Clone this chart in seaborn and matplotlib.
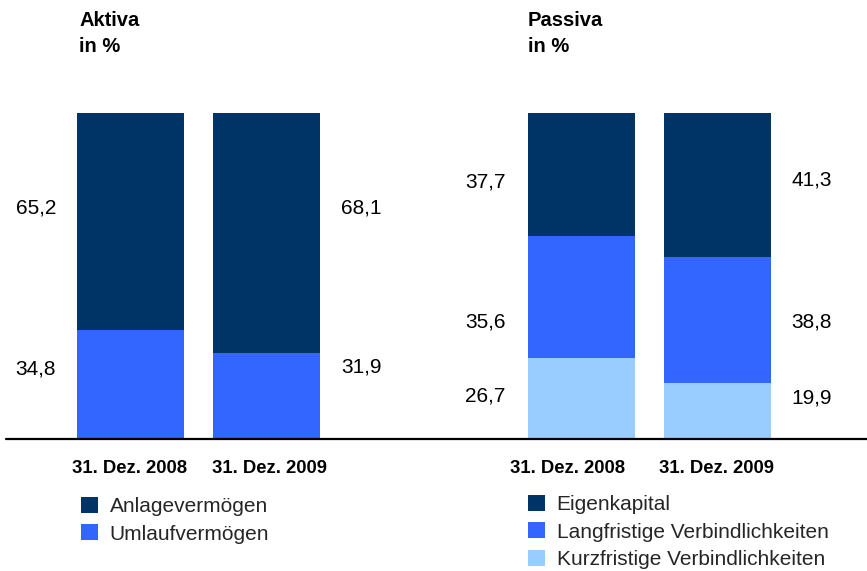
import matplotlib
matplotlib.use("Agg")
import matplotlib.pyplot as plt
from matplotlib.patches import Patch
from matplotlib.lines import Line2D
import seaborn as sns
import pandas as pd

# ---------------- data ----------------
dates = ["31. Dez. 2008", "31. Dez. 2009"]

# Aktiva (bar segment heights as drawn, in %)
aktiva_anlage = [66.6, 73.6]
aktiva_umlauf = [33.4, 26.4]
aktiva_labels_anlage = ["65,2", "68,1"]
aktiva_labels_umlauf = ["34,8", "31,9"]

# Passiva (bar segment heights as drawn, in %)
passiva_eigen = [37.8, 44.1]
passiva_lang = [37.4, 38.7]
passiva_kurz = [24.8, 17.2]
passiva_labels_eigen = ["37,7", "41,3"]
passiva_labels_lang = ["35,6", "38,8"]
passiva_labels_kurz = ["26,7", "19,9"]

aktiva_legend = ["Anlagevermögen", "Umlaufvermögen"]
passiva_legend = ["Eigenkapital", "Langfristige Verbindlichkeiten", "Kurzfristige Verbindlichkeiten"]

DARK = "#003366"
MID = "#3366FF"
LIGHT = "#99CCFF"

# ---------------- figure ----------------
sns.set_theme(style="white")
plt.rcParams["font.family"] = ["Liberation Sans", "DejaVu Sans"]

W, H = 867, 571
fig = plt.figure(figsize=(W / 100, H / 100), dpi=100)

base_px = 438.5
top_px = 113.0
unit = 136.0  # px per category step
bw = 107.0 / unit


def axes_at(x0, x1, center0):
    ax = fig.add_axes([x0 / W, (H - base_px) / H, (x1 - x0) / W, (base_px - top_px) / H])
    ax.set_xlim((x0 - center0) / unit, (x1 - center0) / unit)
    ax.set_ylim(0, 100)
    for s in ax.spines.values():
        s.set_visible(False)
    ax.set_yticks([])
    return ax


def stacked(ax, layers, colors):
    # layers from bottom to top; draw cumulative totals top-down
    cum = []
    running = [0.0] * len(dates)
    for layer in layers:
        running = [r + v for r, v in zip(running, layer)]
        cum.append(list(running))
    for tot, col in reversed(list(zip(cum, colors))):
        df = pd.DataFrame({"date": dates, "v": tot})
        sns.barplot(data=df, x="date", y="v", color=col, saturation=1,
                    width=bw, errorbar=None, ax=ax, linewidth=0)
    ax.set_xlabel("")
    ax.set_ylabel("")


def ytop(px):
    return (base_px - px) / (base_px - top_px) * 100


# Aktiva
ax1 = axes_at(0, 433, 130.5)
stacked(ax1, [aktiva_umlauf, aktiva_anlage], [MID, DARK])
ax1.set_xlim((0 - 130.5) / unit, (433 - 130.5) / unit)
ax1.set_ylim(0, 100)

# Passiva
ax2 = axes_at(433, 867, 581.5)
stacked(ax2, [passiva_kurz, passiva_lang, passiva_eigen], [LIGHT, MID, DARK])
ax2.set_xlim((433 - 581.5) / unit, (867 - 581.5) / unit)
ax2.set_ylim(0, 100)

for ax, offs in ((ax1, [-1.0, 3.5]), (ax2, [-13.5, -1.0])):
    ax.set_xticks([0 + offs[0] / unit, 1 + offs[1] / unit])
    ax.set_xticklabels(dates, fontsize=13.3, fontweight="bold", color="black")
    ax.tick_params(axis="x", length=0, pad=15.5)
    ax.set_yticks([])

# value labels
lbl_kw = dict(fontsize=15, color="black", ha="center", va="center", clip_on=False)
lx_left1 = (36 - 130.5) / unit
lx_right1 = (361 - 130.5) / unit
ax1.text(lx_left1, ytop(208), aktiva_labels_anlage[0], **lbl_kw)
ax1.text(lx_left1, ytop(369), aktiva_labels_umlauf[0], **lbl_kw)
ax1.text(lx_right1, ytop(208), aktiva_labels_anlage[1], **lbl_kw)
ax1.text(lx_right1, ytop(367), aktiva_labels_umlauf[1], **lbl_kw)

lx_left2 = (485 - 581.5) / unit
lx_right2 = (812 - 581.5) / unit
ax2.text(lx_left2, ytop(182), passiva_labels_eigen[0], **lbl_kw)
ax2.text(lx_left2, ytop(322), passiva_labels_lang[0], **lbl_kw)
ax2.text(lx_left2, ytop(396), passiva_labels_kurz[0], **lbl_kw)
ax2.text(lx_right2, ytop(180), passiva_labels_eigen[1], **lbl_kw)
ax2.text(lx_right2, ytop(322), passiva_labels_lang[1], **lbl_kw)
ax2.text(lx_right2, ytop(398), passiva_labels_kurz[1], **lbl_kw)

# baseline
fig.add_artist(Line2D([6 / W, 1.0], [(H - base_px) / H] * 2, color="black",
                      linewidth=1.6, transform=fig.transFigure))

# titles
t_kw = dict(fontsize=14.5, fontweight="bold", color="black", ha="left", va="center")
fig.text(79 / W, 1 - 21 / H, "Aktiva", **t_kw)
fig.text(79 / W, 1 - 46 / H, "in %", **t_kw)
fig.text(528 / W, 1 - 21 / H, "Passiva", **t_kw)
fig.text(528 / W, 1 - 46 / H, "in %", **t_kw)

# legends
leg_kw = dict(loc="upper left", frameon=False, fontsize=15, borderpad=0,
              borderaxespad=0, handlelength=0.82, handleheight=0.82,
              handletextpad=0.55, labelspacing=0.38,
              bbox_transform=fig.transFigure)
h1 = [Patch(facecolor=c, edgecolor="none") for c in (DARK, MID)]
fig.legend(h1, aktiva_legend, bbox_to_anchor=(81 / W, 1 - 497 / H), **leg_kw)
h2 = [Patch(facecolor=c, edgecolor="none") for c in (DARK, MID, LIGHT)]
fig.legend(h2, passiva_legend, bbox_to_anchor=(528 / W, 1 - 495 / H), **leg_kw)

fig.savefig("out.png", dpi=100)
